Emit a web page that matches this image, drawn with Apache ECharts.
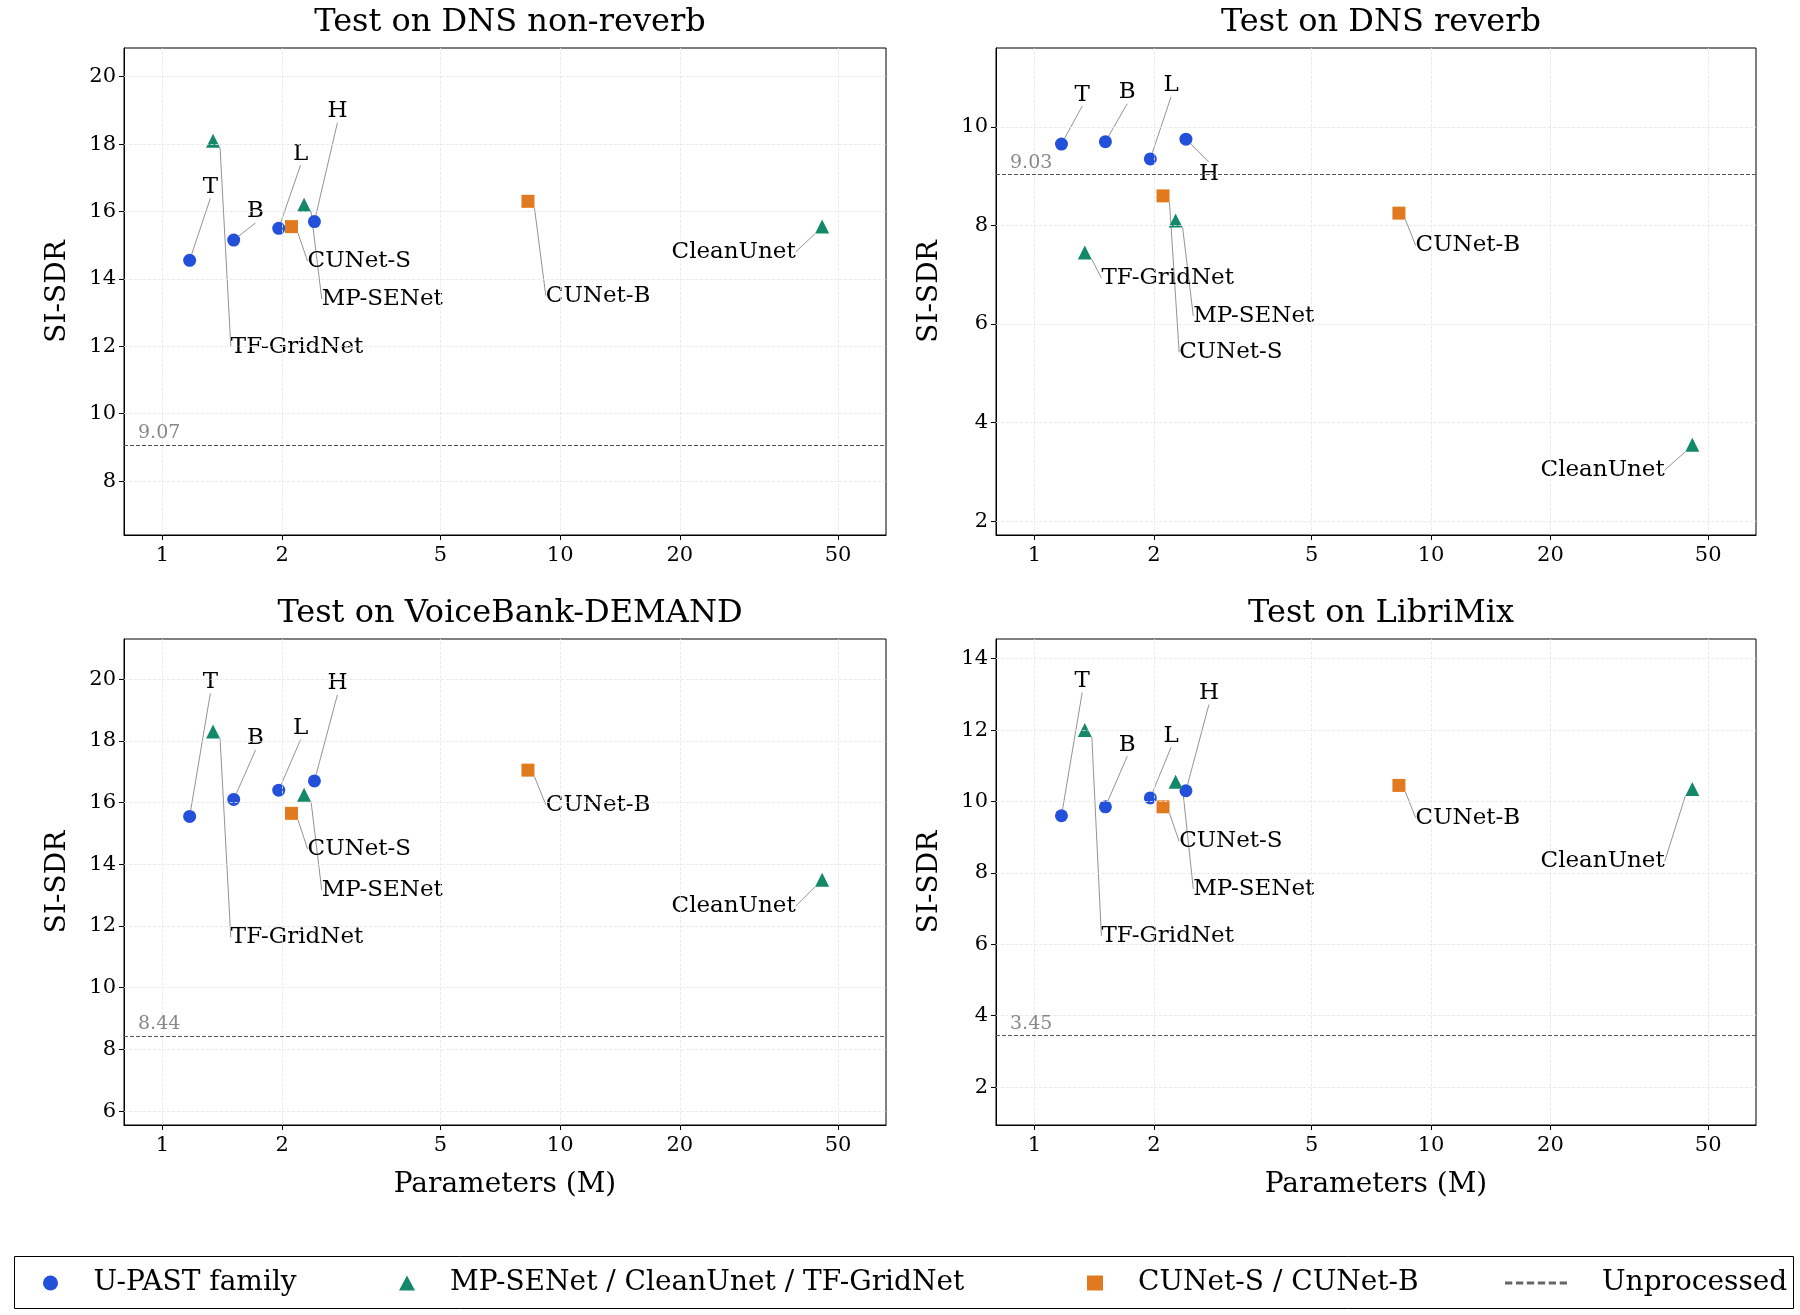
<!DOCTYPE html>
<html><head><meta charset="utf-8">
<script src="https://cdn.jsdelivr.net/npm/echarts@6/dist/echarts.min.js"></script>
<style>html,body{margin:0;padding:0;background:#fff}#c{width:1800px;height:1315px}</style>
</head><body><div id="c"></div>
<script>
// ---- data ----
const panelTitles = ['Test on DNS non-reverb','Test on DNS reverb','Test on VoiceBank-DEMAND','Test on LibriMix'];
const upastNames = ['T','B','L','H'];
const upastParams = [1.17, 1.51, 1.96, 2.41];
const otherNames = ['TF-GridNet','MP-SENet','CleanUnet'];
const otherParams = [1.34, 2.27, 45.6];
const cunetNames = ['CUNet-S','CUNet-B'];
const cunetParams = [2.11, 8.3];
const upastSDR = [[14.55,15.15,15.5,15.7],[9.65,9.7,9.35,9.75],[15.55,16.1,16.4,16.7],[9.6,9.85,10.1,10.3]];
const otherSDR = [[18.1,16.2,15.55],[7.45,8.1,3.55],[18.3,16.25,13.5],[12.0,10.55,10.35]];
const cunetSDR = [[15.55,16.3],[8.6,8.25],[15.65,17.05],[9.85,10.45]];
const unprocessed = [9.07, 9.03, 8.44, 3.45];
const xTicks = [1,2,5,10,20,50];
const yTicks = [[8,10,12,14,16,18,20],[2,4,6,8,10],[6,8,10,12,14,16,18,20],[2,4,6,8,10,12,14]];
const yRange = [[6.4,20.85],[1.72,11.6],[5.55,21.3],[0.94,14.55]];

// ---- layout (label offsets, px in reference display scale) ----
const S = 1.15;
const upastOff = [[[18,-64],[19,-25],[19,-65],[20,-96]],[[18,-43],[19,-43],[18,-64],[20,30]],[[18,-117],[19,-53],[19,-54],[20,-85]],[[18,-117],[19,-54],[18,-54],[20,-85]]];
const otherOff = [[[73,179],[68,82],[-77,22]],[[72,22],[68,83],[-78,22]],[[73,179],[68,83],[-77,23]],[[72,179],[68,93],[-78,63]]];
const cunetOff = [[[59,30],[61,82]],[[59,136],[60,28]],[[59,31],[61,30]],[[59,30],[60,28]]];
const grids = [{left:124,top:48,width:762,height:487},{left:996,top:48,width:760,height:487},{left:124,top:639,width:762,height:486},{left:996,top:639,width:760,height:486}];
const colors = {u:'#2350d8', o:'#14896a', c:'#e17a1f'};
const FONT = 'DejaVu Serif';

const chart = echarts.init(document.getElementById('c'));
const opt = {animation:false, title:[], grid:[], xAxis:[], yAxis:[], series:[], legend:[], graphic:[]};
function pts(names, xs, ys){
  return names.map((n,i)=>({value:[xs[i],ys[i]], name:n}));
}
function layoutFn(offs){
  return (params)=>({dx:offs[params.dataIndex][0]*S, dy:offs[params.dataIndex][1]*S});
}
const labelCfg = {show:true, position:'inside', formatter:'{b}', color:'#000', fontFamily:FONT, fontSize:23};
const lineCfg = {show:true, lineStyle:{color:'#777', width:0.8}, length2:0};
for(let p=0;p<4;p++){
  const g = grids[p];
  opt.grid.push({...g, show:true, borderColor:'#000', borderWidth:1});
  opt.title.push({text:panelTitles[p], left:g.left+g.width/2, top:g.top-46, textAlign:'center',
    textStyle:{fontFamily:FONT, fontSize:32, fontWeight:'normal', color:'#000'}});
  opt.xAxis.push({type:'log', logBase:10, gridIndex:p, min:0.8, max:66,
    name: p>=2 ? 'Parameters (M)' : '', nameLocation:'middle', nameGap:46,
    nameTextStyle:{fontFamily:FONT, fontSize:28, color:'#000'},
    axisLine:{onZero:false, lineStyle:{color:'#000'}}, splitLine:{show:false}, minorTick:{show:false},
    axisTick:{show:true, customValues:xTicks, lineStyle:{color:'#000'}, length:5},
    axisLabel:{customValues:xTicks, fontFamily:FONT, fontSize:21, color:'#000', margin:10}});
  opt.yAxis.push({type:'value', gridIndex:p, min:yRange[p][0], max:yRange[p][1],
    name:'SI-SDR', nameLocation:'middle', nameGap:52,
    nameTextStyle:{fontFamily:FONT, fontSize:28, color:'#000'},
    axisLine:{show:true, lineStyle:{color:'#000'}}, splitLine:{show:false},
    axisTick:{show:true, customValues:yTicks[p], lineStyle:{color:'#000'}, length:5},
    axisLabel:{customValues:yTicks[p], fontFamily:FONT, fontSize:21, color:'#000', margin:8}});
  const gridLines = [...xTicks.map(v=>({xAxis:v})), ...yTicks[p].map(v=>({yAxis:v}))];
  opt.series.push({type:'line', xAxisIndex:p, yAxisIndex:p, data:[], silent:true,
    markLine:{silent:true, symbol:'none', label:{show:false}, lineStyle:{color:'#e4e4e4', type:'dashed', width:0.8}, data:gridLines}});
  opt.series.push({type:'line', name:'Unprocessed', xAxisIndex:p, yAxisIndex:p, data:[], lineStyle:{color:'#666', type:'dashed', width:1}, itemStyle:{color:'#666'}, symbol:'none',
    markLine:{silent:true, symbol:'none', lineStyle:{color:'#555', type:'dashed', width:1},
      label:{show:true, position:'insideStartTop', formatter:String(unprocessed[p].toFixed(2)), color:'#888', fontFamily:FONT, fontSize:19, distance:[14,2]},
      data:[{yAxis:unprocessed[p]}]}});
  opt.series.push({type:'scatter', name:'U-PAST family', xAxisIndex:p, yAxisIndex:p, symbol:'circle', symbolSize:13,
    itemStyle:{color:colors.u, opacity:1}, label:labelCfg, labelLine:lineCfg, labelLayout:layoutFn(upastOff[p]),
    data:pts(upastNames, upastParams, upastSDR[p])});
  opt.series.push({type:'scatter', name:'MP-SENet / CleanUnet / TF-GridNet', xAxisIndex:p, yAxisIndex:p, symbol:'triangle', symbolSize:14,
    itemStyle:{color:colors.o, opacity:1}, label:labelCfg, labelLine:lineCfg, labelLayout:layoutFn(otherOff[p]),
    data:pts(otherNames, otherParams, otherSDR[p])});
  opt.series.push({type:'scatter', name:'CUNet-S / CUNet-B', xAxisIndex:p, yAxisIndex:p, symbol:'rect', symbolSize:13,
    itemStyle:{color:colors.c, opacity:1}, label:labelCfg, labelLine:lineCfg, labelLayout:layoutFn(cunetOff[p]),
    data:pts(cunetNames, cunetParams, cunetSDR[p])});
}
const legNames = ['U-PAST family','MP-SENet / CleanUnet / TF-GridNet','CUNet-S / CUNet-B','Unprocessed'];
const legIcons = ['circle','triangle','rect','path://M0,4h3v1.2h-3zM4.5,4h3v1.2h-3zM9,4h3v1.2h-3zM13.5,4h3v1.2h-3zM18,4h3v1.2h-3zM22.5,4h3v1.2h-3z'];
const legLeft = [38, 394, 1082, 1500];
legNames.forEach((n,i)=>{
  opt.legend.push({data:[{name:n, icon:legIcons[i]}], left:legLeft[i], top:1264, itemWidth: i===3?62:16, itemHeight: i===3?8:15, itemGap:10,
    selectedMode:false, itemStyle:{opacity:1}, textStyle:{fontFamily:FONT, fontSize:28, color:'#000', padding:[0,0,0,30]}});
});
opt.graphic.push({type:'rect', left:12, top:1254, shape:{width:1779, height:52}, style:{fill:'none', stroke:'#000', lineWidth:1}});
chart.setOption(opt);
</script></body></html>
